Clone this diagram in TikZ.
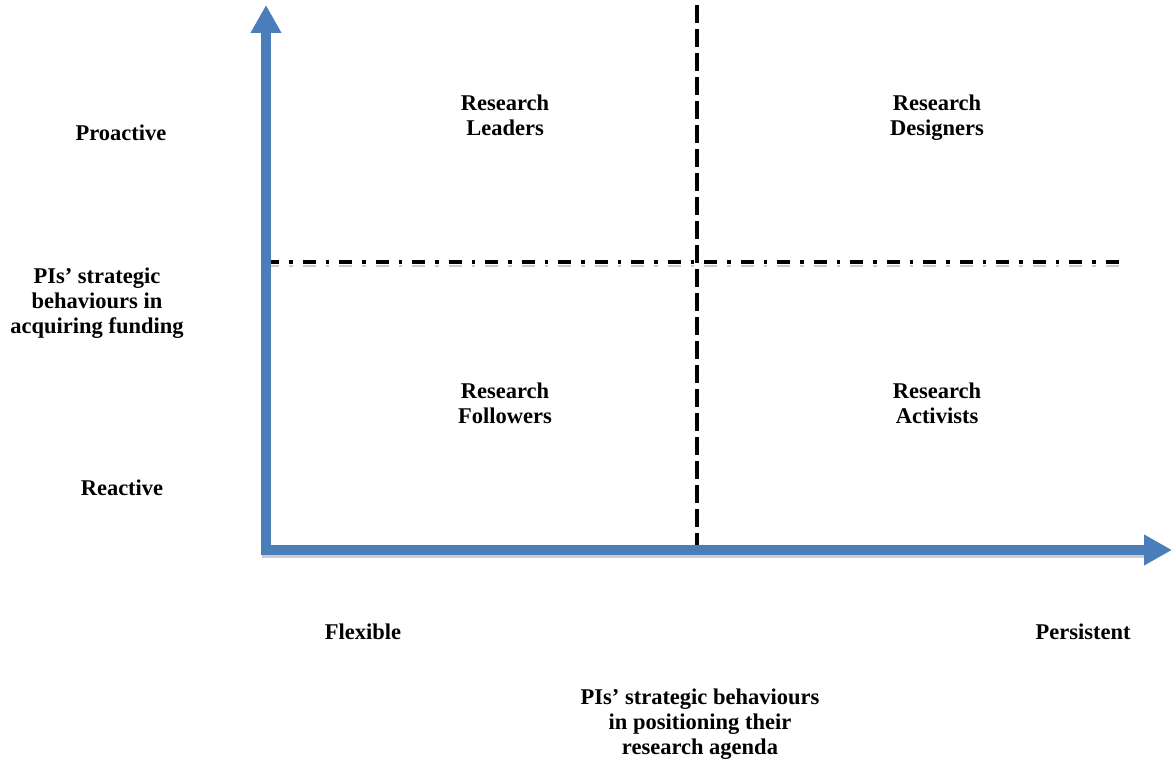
\documentclass[tikz,border=0pt]{standalone}
\usepackage{fontspec}
\setmainfont{Liberation Serif}
\usetikzlibrary{arrows.meta}

\definecolor{axisblue}{RGB}{74,126,187}

\tikzset{
  axis line/.style={line width=9.5pt, draw=axisblue, -{Triangle[width=29pt,length=28pt]}},
  axis shadow/.style={line width=4pt, draw=black!20},
  split line/.style={line width=3.5pt, dash pattern=on 18pt off 6pt},
  level line/.style={line width=3.5pt, dash pattern=on 13pt off 10pt on 3.5pt off 10pt},
  level shadow/.style={line width=2pt, draw=black!20, dash pattern=on 13pt off 10pt on 3.5pt off 10pt},
  quad text/.style={align=center, font=\bfseries\fontsize{22.5}{25}\selectfont},
}

\begin{document}
\begin{tikzpicture}[x=1pt, y=-1pt]

\useasboundingbox (0,0) rectangle (1172,765);

% axes end points
\coordinate (origin) at (266,550);
\coordinate (x-start) at (262,550);
\coordinate (x-end) at (1172,550);
\coordinate (y-start) at (266,555);
\coordinate (y-end) at (266,5);

% quadrant dividers
\coordinate (split-top) at (697,5);
\coordinate (split-bottom) at (697,552);
\coordinate (level-left) at (266,262);
\coordinate (level-right) at (1124,262);

% shadows under the lines
\draw [axis shadow] ([yshift=-6pt]x-start) -- ([xshift=-22pt,yshift=-6pt]x-end);
\draw [level shadow] ([yshift=-4pt]level-left) -- ([yshift=-4pt]level-right);

% dividers
\draw [level line] (level-left) -- (level-right);
\draw [split line] (split-top) -- (split-bottom);

% axes
\draw [axis line] (y-start) -- (y-end);
\draw [axis line] (x-start) -- (x-end);

% quadrant labels
\foreach \n/\t/\x/\y in {leaders/Leaders/505/118, designers/Designers/937/118,
                         followers/Followers/505/406, activists/Activists/937/406}
  \node [quad text, text depth=5pt] (\n) at (\x,\y) {Research\\\t};

% vertical axis labeling
\node [quad text] (proactive) at (121,133) {Proactive};
\node [quad text] (funding) at (97,303) {PIs’ strategic\\behaviours in\\acquiring funding};
\node [quad text] (reactive) at (122,488) {Reactive};

% horizontal axis labeling
\node [quad text] (flexible) at (363,632) {Flexible};
\node [quad text] (persistent) at (1083,632) {Persistent};
\node [quad text] (agenda) at (700,724) {PIs’ strategic behaviours\\in positioning their\\research agenda};

\end{tikzpicture}
\end{document}
